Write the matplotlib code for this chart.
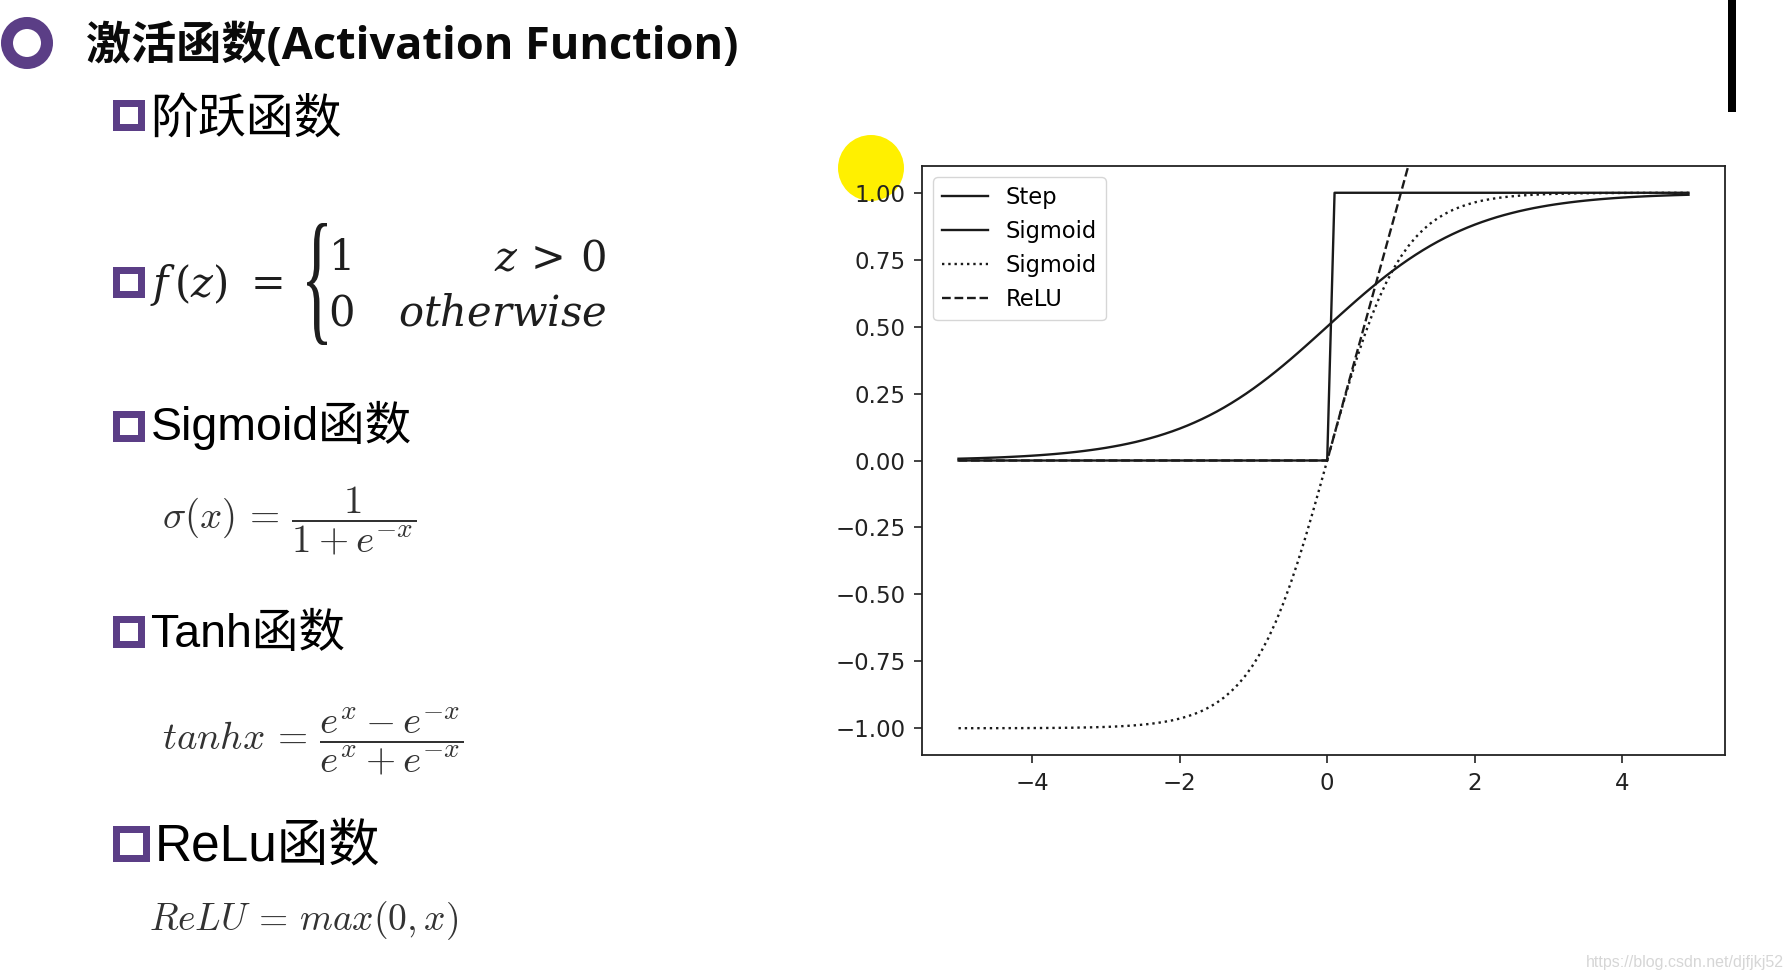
import matplotlib
matplotlib.use('Agg')
import matplotlib.pyplot as plt
from matplotlib.patches import Rectangle, Circle, PathPatch
from matplotlib.transforms import IdentityTransform, Affine2D
from matplotlib.textpath import TextPath
from matplotlib.font_manager import FontProperties

# ---------------- data ----------------
x_vals = [-5.0, -4.9, -4.8, -4.7, -4.6, -4.5, -4.4, -4.3, -4.2, -4.1,
          -4.0, -3.9, -3.8, -3.7, -3.6, -3.5, -3.4, -3.3, -3.2, -3.1,
          -3.0, -2.9, -2.8, -2.7, -2.6, -2.5, -2.4, -2.3, -2.2, -2.1,
          -2.0, -1.9, -1.8, -1.7, -1.6, -1.5, -1.4, -1.3, -1.2, -1.1,
          -1.0, -0.9, -0.8, -0.7, -0.6, -0.5, -0.4, -0.3, -0.2, -0.1,
          0.0, 0.1, 0.2, 0.3, 0.4, 0.5, 0.6, 0.7, 0.8, 0.9,
          1.0, 1.1, 1.2, 1.3, 1.4, 1.5, 1.6, 1.7, 1.8, 1.9,
          2.0, 2.1, 2.2, 2.3, 2.4, 2.5, 2.6, 2.7, 2.8, 2.9,
          3.0, 3.1, 3.2, 3.3, 3.4, 3.5, 3.6, 3.7, 3.8, 3.9,
          4.0, 4.1, 4.2, 4.3, 4.4, 4.5, 4.6, 4.7, 4.8, 4.9]

step_vals = [0] * 51 + [1] * 49

sigmoid_vals = [0.0067, 0.0074, 0.0082, 0.0090, 0.0100, 0.0110, 0.0121, 0.0134, 0.0148, 0.0163,
                0.0180, 0.0198, 0.0219, 0.0241, 0.0266, 0.0293, 0.0323, 0.0356, 0.0392, 0.0431,
                0.0474, 0.0522, 0.0573, 0.0630, 0.0691, 0.0759, 0.0832, 0.0911, 0.0998, 0.1091,
                0.1192, 0.1301, 0.1419, 0.1545, 0.1680, 0.1824, 0.1978, 0.2142, 0.2315, 0.2497,
                0.2689, 0.2891, 0.3100, 0.3318, 0.3543, 0.3775, 0.4013, 0.4256, 0.4502, 0.4750,
                0.5000, 0.5250, 0.5498, 0.5744, 0.5987, 0.6225, 0.6457, 0.6682, 0.6900, 0.7109,
                0.7311, 0.7503, 0.7685, 0.7858, 0.8022, 0.8176, 0.8320, 0.8455, 0.8581, 0.8699,
                0.8808, 0.8909, 0.9002, 0.9089, 0.9168, 0.9241, 0.9309, 0.9370, 0.9427, 0.9478,
                0.9526, 0.9569, 0.9608, 0.9644, 0.9677, 0.9707, 0.9734, 0.9759, 0.9781, 0.9802,
                0.9820, 0.9837, 0.9852, 0.9866, 0.9879, 0.9890, 0.9900, 0.9910, 0.9918, 0.9926]

tanh_vals = [-0.9999, -0.9999, -0.9999, -0.9998, -0.9998, -0.9998, -0.9997, -0.9996, -0.9996, -0.9995,
             -0.9993, -0.9992, -0.9990, -0.9988, -0.9985, -0.9982, -0.9978, -0.9973, -0.9967, -0.9959,
             -0.9951, -0.9940, -0.9926, -0.9910, -0.9890, -0.9866, -0.9837, -0.9801, -0.9757, -0.9705,
             -0.9640, -0.9562, -0.9468, -0.9354, -0.9217, -0.9051, -0.8854, -0.8617, -0.8337, -0.8005,
             -0.7616, -0.7163, -0.6640, -0.6044, -0.5370, -0.4621, -0.3799, -0.2913, -0.1974, -0.0997,
             0.0000, 0.0997, 0.1974, 0.2913, 0.3799, 0.4621, 0.5370, 0.6044, 0.6640, 0.7163,
             0.7616, 0.8005, 0.8337, 0.8617, 0.8854, 0.9051, 0.9217, 0.9354, 0.9468, 0.9562,
             0.9640, 0.9705, 0.9757, 0.9801, 0.9837, 0.9866, 0.9890, 0.9910, 0.9926, 0.9940,
             0.9951, 0.9959, 0.9967, 0.9973, 0.9978, 0.9982, 0.9985, 0.9988, 0.9990, 0.9992,
             0.9993, 0.9995, 0.9996, 0.9996, 0.9997, 0.9998, 0.9998, 0.9998, 0.9999, 0.9999]

relu_vals = [0.0] * 51 + [0.1, 0.2, 0.3, 0.4, 0.5, 0.6, 0.7, 0.8, 0.9,
                          1.0, 1.1, 1.2, 1.3, 1.4, 1.5, 1.6, 1.7, 1.8, 1.9,
                          2.0, 2.1, 2.2, 2.3, 2.4, 2.5, 2.6, 2.7, 2.8, 2.9,
                          3.0, 3.1, 3.2, 3.3, 3.4, 3.5, 3.6, 3.7, 3.8, 3.9,
                          4.0, 4.1, 4.2, 4.3, 4.4, 4.5, 4.6, 4.7, 4.8, 4.9]

series_labels = ['Step', 'Sigmoid', 'Sigmoid', 'ReLU']
x_ticks = [-4, -2, 0, 2, 4]
y_ticks = [-1.00, -0.75, -0.50, -0.25, 0.00, 0.25, 0.50, 0.75, 1.00]

title_text = '激活函数(Activation Function)'
heading_texts = ['阶跃函数', 'Sigmoid函数', 'Tanh函数', 'ReLu函数']
watermark = 'https://blog.csdn.net/djfjkj52'

# ---------------- figure ----------------
W, H = 1792, 980
fig = plt.figure(figsize=(W / 100, H / 100), dpi=100)
fig.patch.set_facecolor('white')
ID = IdentityTransform()
PURPLE = '#5b3e86'
HEAD = ['Liberation Sans', 'Noto Sans CJK SC']


def fx(x):
    return x / W


def fy(y):
    return 1 - y / H


def square(x0, y0, x1, y1, t=7):
    r = Rectangle((x0 + t / 2, H - y1 + t / 2), x1 - x0 - t, y1 - y0 - t,
                  fill=False, edgecolor=PURPLE, linewidth=t * 0.72, transform=ID)
    fig.add_artist(r)


# title ring
fig.add_artist(Circle((27, H - 43), 20, fill=False, edgecolor=PURPLE,
                      linewidth=12 * 0.72, transform=ID))
fig.text(fx(86), fy(47), title_text, family=['Open Sans', 'Noto Sans CJK SC'],
         weight='bold', fontsize=32.5, va='center', color='#0a0a0a')

# step heading
square(112, 99, 144, 130)
fig.text(fx(150), fy(120), heading_texts[0], family=HEAD, fontsize=34.5, va='center')

# f(z) piecewise
square(112, 266, 144, 297)
MC = '#1e1e1e'
MF = 'dejavuserif'
FS = 30
fig.text(fx(150), fy(285), r'$f\,(z)\ =$', math_fontfamily=MF, fontsize=FS,
         va='center', color=MC)
fig.text(fx(328), fy(258), r'$1$', math_fontfamily=MF, fontsize=FS, va='center', color=MC)
fig.text(fx(328), fy(313), r'$0$', math_fontfamily=MF, fontsize=FS, va='center', color=MC)
fig.text(fx(606), fy(258), r'$z\,>\,0$', math_fontfamily=MF, fontsize=FS,
         va='center', ha='right', color=MC)
fig.text(fx(606), fy(313), r'$otherwise$', math_fontfamily=MF, fontsize=FS,
         va='center', ha='right', color=MC)
tp = TextPath((0, 0), '{', size=100, prop=FontProperties(family='Liberation Serif'))
bb = tp.get_extents()
bx0, bx1, by0, by1 = 307, 327, 223, 345
tr = Affine2D().translate(-bb.x0, -bb.y0).scale((bx1 - bx0) / bb.width,
                                                (by1 - by0) / bb.height).translate(bx0, H - by1)
fig.add_artist(PathPatch(tp, facecolor=MC, edgecolor='none', transform=tr))

# sigmoid
square(112, 410, 144, 441)
fig.text(fx(151), fy(440), heading_texts[1], family=HEAD, fontsize=33.5, va='baseline')
fig.text(fx(162), fy(521), r'$\sigma(x)\,=\,\dfrac{1}{1+e^{-x}}$', math_fontfamily='cm',
         fontsize=28, va='center', color='#333333')

# tanh
square(112, 615, 144, 647)
fig.text(fx(151), fy(647), heading_texts[2], family=HEAD, fontsize=33.5, va='baseline')
fig.text(fx(162), fy(742), r'$tanhx\,=\,\dfrac{e^x - e^{-x}}{e^x + e^{-x}}$',
         math_fontfamily='cm', fontsize=28, va='center', color='#333333')

# relu
square(112, 825, 149, 861)
fig.text(fx(155), fy(860), heading_texts[3], family=HEAD, fontsize=37, va='baseline')
fig.text(fx(149), fy(921), r'$ReLU\,=\,max(0,x)$', math_fontfamily='cm',
         fontsize=27, va='center', color='#333333')

# yellow cursor highlight
fig.add_artist(Circle((871, H - 168), 33, facecolor='#fff000', edgecolor='none',
                      transform=ID, zorder=-1))
# black bar top right
fig.add_artist(Rectangle((1728, H - 112), 8, 112, facecolor='black', edgecolor='none',
                         transform=ID))
# watermark
fig.text(fx(1586), fy(962), watermark, family='Liberation Sans', fontsize=11.5,
         color='#d6d6d6', va='center')

# ---------------- chart ----------------
ax = fig.add_axes([922 / W, 1 - 755 / H, (1725 - 922) / W, (755 - 166) / H])
LC = '#1a1a1a'
LW = 1.7
ax.plot(x_vals, step_vals, color=LC, lw=LW, ls='-', label=series_labels[0])
ax.plot(x_vals, sigmoid_vals, color=LC, lw=LW, ls='-', label=series_labels[1])
ax.plot(x_vals, tanh_vals, color=LC, lw=LW, ls=':', label=series_labels[2])
ax.plot(x_vals, relu_vals, color=LC, lw=LW, ls='--', label=series_labels[3])
ax.set_ylim(-1.1, 1.1)
ax.set_xticks(x_ticks)
ax.set_yticks(y_ticks)
ax.tick_params(labelsize=16.5, length=6, width=1.2, pad=6, colors='#222222')
for s in ax.spines.values():
    s.set_linewidth(1.3)
    s.set_color('#222222')
ax.legend(loc='upper left', fontsize=16.3, labelspacing=0.48)

fig.savefig('out.png', dpi=100)
